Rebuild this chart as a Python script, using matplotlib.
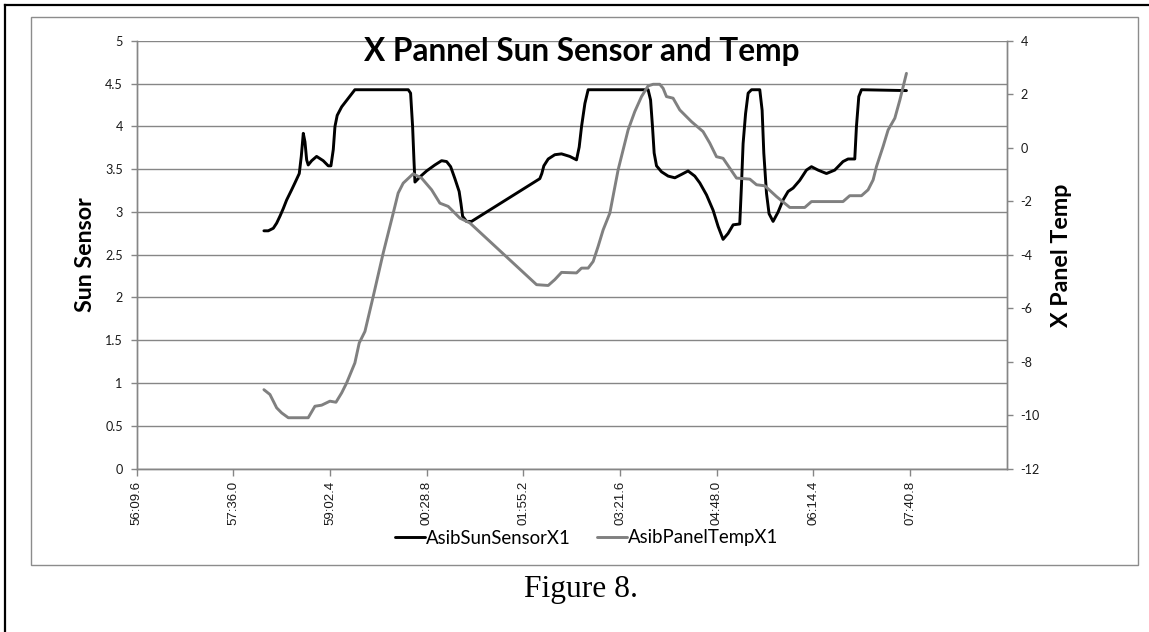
import matplotlib
matplotlib.use("Agg")
import matplotlib.pyplot as plt
from matplotlib.ticker import FixedLocator, FuncFormatter, MultipleLocator
from matplotlib.lines import Line2D
from matplotlib.patches import Rectangle

# ---------------- data ----------------
# time offsets in seconds from 56:09.6
sun_t = [113.7, 117.6, 122.1, 125.1, 128.0, 131.0, 134.0, 138.5, 141.4, 145.3,
         147.1, 148.9, 150.4, 151.9, 153.3, 156.4, 160.8, 166.7, 171.2, 173.6,
         175.7, 177.2, 179.2, 183.2, 189.1, 195.0, 242.7, 244.8, 246.6, 247.8,
         248.7, 253.1, 259.1, 266.5, 272.5, 277.0, 280.6, 284.4, 288.2, 289.8,
         291.3, 294.8, 299.3, 360.3, 362.1, 363.9, 367.8, 373.7, 379.7, 387.1,
         393.1, 395.5, 397.6, 400.6, 403.5, 457.1, 459.3, 461.0, 462.5, 464.6,
         469.1, 475.0, 481.0, 487.0, 492.8, 498.8, 503.3, 509.3, 515.2, 519.7,
         524.1, 528.6, 533.1, 539.0, 540.5, 542.0, 544.2, 546.5, 549.5, 556.9,
         559.0, 560.5, 562.9, 565.2, 568.8, 573.3, 577.7, 582.2, 586.7, 592.6,
         598.6, 603.1, 609.0, 616.5, 623.9, 631.3, 635.8, 641.8, 643.3, 645.4,
         647.8, 688.0]
sun_v = [2.78, 2.78, 2.81, 2.87, 2.95, 3.04, 3.14, 3.26, 3.34, 3.45,
         3.65, 3.92, 3.82, 3.61, 3.55, 3.60, 3.65, 3.60, 3.54, 3.54,
         3.73, 4.00, 4.13, 4.23, 4.33, 4.43, 4.43, 4.39, 4.00, 3.61,
         3.35, 3.41, 3.48, 3.55, 3.60, 3.59, 3.53, 3.39, 3.24, 3.10,
         2.95, 2.89, 2.89, 3.39, 3.45, 3.54, 3.62, 3.67, 3.68, 3.65,
         3.61, 3.76, 4.00, 4.27, 4.43, 4.43, 4.31, 4.00, 3.69, 3.54,
         3.47, 3.42, 3.40, 3.44, 3.48, 3.42, 3.34, 3.20, 3.02, 2.83,
         2.68, 2.75, 2.85, 2.86, 3.30, 3.80, 4.15, 4.39, 4.43, 4.43,
         4.19, 3.69, 3.22, 2.98, 2.89, 3.00, 3.14, 3.24, 3.28, 3.37,
         3.49, 3.53, 3.49, 3.45, 3.49, 3.59, 3.62, 3.62, 4.00, 4.35,
         4.43, 4.42]

temp_t = [113.7, 119.1, 125.1, 129.6, 135.5, 153.3, 159.3, 165.3, 172.7, 178.1,
          183.2, 187.6, 195.0, 198.9, 204.0, 211.4, 220.3, 229.3, 233.7, 238.2,
          247.1, 254.6, 263.6, 271.0, 278.4, 288.9, 297.8, 357.4, 367.8, 373.7,
          379.7, 393.1, 397.6, 403.5, 408.0, 412.4, 416.9, 422.9, 430.3, 439.2,
          445.2, 451.2, 457.1, 461.6, 467.5, 470.5, 473.5, 479.4, 485.4, 495.9,
          506.2, 512.2, 518.2, 524.1, 530.1, 536.1, 548.0, 554.0, 561.4, 571.8,
          583.7, 597.1, 603.1, 631.3, 637.3, 647.8, 653.7, 658.2, 661.2, 667.1,
          671.6, 677.6, 682.1, 688.0]
temp_v = [-9.05, -9.23, -9.73, -9.92, -10.10, -10.10, -9.67, -9.63, -9.48, -9.52,
          -9.17, -8.80, -8.05, -7.30, -6.87, -5.56, -3.94, -2.44, -1.69, -1.32,
          -0.97, -1.13, -1.57, -2.07, -2.19, -2.63, -2.81, -5.12, -5.15, -4.93,
          -4.66, -4.68, -4.50, -4.50, -4.25, -3.69, -3.07, -2.44, -0.82, 0.67,
          1.36, 1.92, 2.32, 2.38, 2.38, 2.23, 1.92, 1.86, 1.42, 0.98,
          0.61, 0.18, -0.33, -0.39, -0.76, -1.13, -1.17, -1.38, -1.42, -1.82,
          -2.23, -2.23, -2.01, -2.01, -1.79, -1.79, -1.57, -1.20, -0.70, 0.05,
          0.67, 1.11, 1.79, 2.79]

start_seconds = 56 * 60 + 9.6          # 56:09.6
tick_step = 86.4                        # 1:26.4 between ticks
n_ticks = 9
x_max = 9 * tick_step

title = "X Pannel Sun Sensor and Temp"
left_label = "Sun Sensor"
right_label = "X Panel Temp"
sun_name = "AsibSunSensorX1"
temp_name = "AsibPanelTempX1"
caption = "Figure 8."

# ---------------- figure ----------------
W, H = 1149, 632
fig = plt.figure(figsize=(W / 100, H / 100), dpi=100)
fig.patch.set_facecolor("white")


def fx(px):
    return px / W


def fy(py):
    return 1 - py / H


renderer = fig.canvas.get_renderer()


def fit(text, target, **kw):
    t = fig.text(0, 0, text, fontsize=10, **kw)
    bb = t.get_window_extent(renderer)
    t.remove()
    return 10 * target / bb.width


ax_l, ax_r, ax_t, ax_b = 136.7, 1006.7, 41.0, 468.5
ax = fig.add_axes([fx(ax_l), fy(ax_b), (ax_r - ax_l) / W, (ax_b - ax_t) / H])
ax2 = ax.twinx()

grid_col = "#868686"

ax.set_xlim(0, x_max)
ax.set_ylim(0, 5)
ax2.set_ylim(-12, 4)

ax.yaxis.set_major_locator(MultipleLocator(0.5))
ax2.yaxis.set_major_locator(MultipleLocator(2))
ax.yaxis.set_major_formatter(FuncFormatter(lambda v, p: f"{v:g}"))
ax2.yaxis.set_major_formatter(FuncFormatter(lambda v, p: f"{v:g}"))


def tfmt(v, p):
    tot = start_seconds + v
    m = int(tot // 60) % 60
    s = tot - 60 * int(tot // 60)
    return f"{m:02d}:{s:04.1f}"


ax.xaxis.set_major_locator(FixedLocator([k * tick_step for k in range(n_ticks)]))
ax.xaxis.set_major_formatter(FuncFormatter(tfmt))

ax.yaxis.grid(True, color=grid_col, lw=1.0)
ax.set_axisbelow(True)

for a in (ax, ax2):
    for side in ("left", "bottom", "right"):
        a.spines[side].set_color(grid_col)
        a.spines[side].set_linewidth(1.0)
    a.spines["top"].set_visible(False)

tick_font = "Lato"
ytick_size = fit("4.5", 17.7, family=tick_font)
ax.tick_params(axis="y", direction="out", length=4, color=grid_col, width=1,
               labelsize=ytick_size, labelcolor="#1a1a1a", pad=6)
ax2.tick_params(axis="y", direction="out", length=4, color=grid_col, width=1,
                labelsize=ytick_size, labelcolor="#1a1a1a", pad=6)
for lab in ax.get_yticklabels() + ax2.get_yticklabels():
    lab.set_family(tick_font)

xtick_size = fit("56:09.6", 44, family="Liberation Sans")
ax.tick_params(axis="x", direction="out", length=5, color=grid_col, width=1,
               labelsize=xtick_size, labelcolor="#1a1a1a", labelrotation=90, pad=4)
for lab in ax.get_xticklabels():
    lab.set_family("Liberation Sans")

l1, = ax.plot(sun_t, sun_v, color="black", lw=2.1, solid_joinstyle="round",
              solid_capstyle="round", label=sun_name)
l2, = ax2.plot(temp_t, temp_v, color="#808080", lw=2.1, solid_joinstyle="round",
               solid_capstyle="round", label=temp_name)

# titles
tsize = fit(title, 438, family="Lato", weight="bold")
fig.text(fx(582), fy(61.5), title, ha="center", va="baseline",
         fontsize=tsize, family="Lato", weight="bold", color="black")

lsize = fit(left_label, 116, family="Lato", weight="bold")
fig.text(fx(85), fy(255), left_label, ha="center", va="center", rotation=90,
         fontsize=lsize, family="Lato", weight="bold")
rsize = fit(right_label, 144, family="Lato", weight="bold")
fig.text(fx(1062), fy(255), right_label, ha="center", va="center", rotation=90,
         fontsize=rsize, family="Lato", weight="bold")

# legend
legsize = fit(sun_name, 146, family="Lato")
fs_px = legsize * 100 / 72
leg = fig.legend(handles=[l1, l2], loc="center", bbox_to_anchor=(fx(587), fy(538)),
                 ncol=2, frameon=False, prop={"family": "Lato", "size": legsize},
                 handlelength=30 / fs_px, handletextpad=0.05,
                 columnspacing=26 / fs_px, borderpad=0, borderaxespad=0)

# caption
csize = fit(caption, 113, family="Liberation Serif")
fig.text(fx(581.5), fy(596.5), caption, ha="center", va="baseline",
         fontsize=csize, family="Liberation Serif", color="black")

# chart area border and page frame
fig.patches.append(Rectangle((fx(30.7), fy(565)), (1137.8 - 30.7) / W, (565 - 17.3) / H,
                             transform=fig.transFigure, fill=False,
                             edgecolor="#8c8c8c", lw=1.0))
fig.lines.append(Line2D([fx(5), fx(5)], [fy(5), 0], transform=fig.transFigure,
                        color="black", lw=1.6))
fig.lines.append(Line2D([fx(5), 1], [fy(5), fy(5)], transform=fig.transFigure,
                        color="black", lw=1.6))

fig.savefig("out.png", dpi=100)
